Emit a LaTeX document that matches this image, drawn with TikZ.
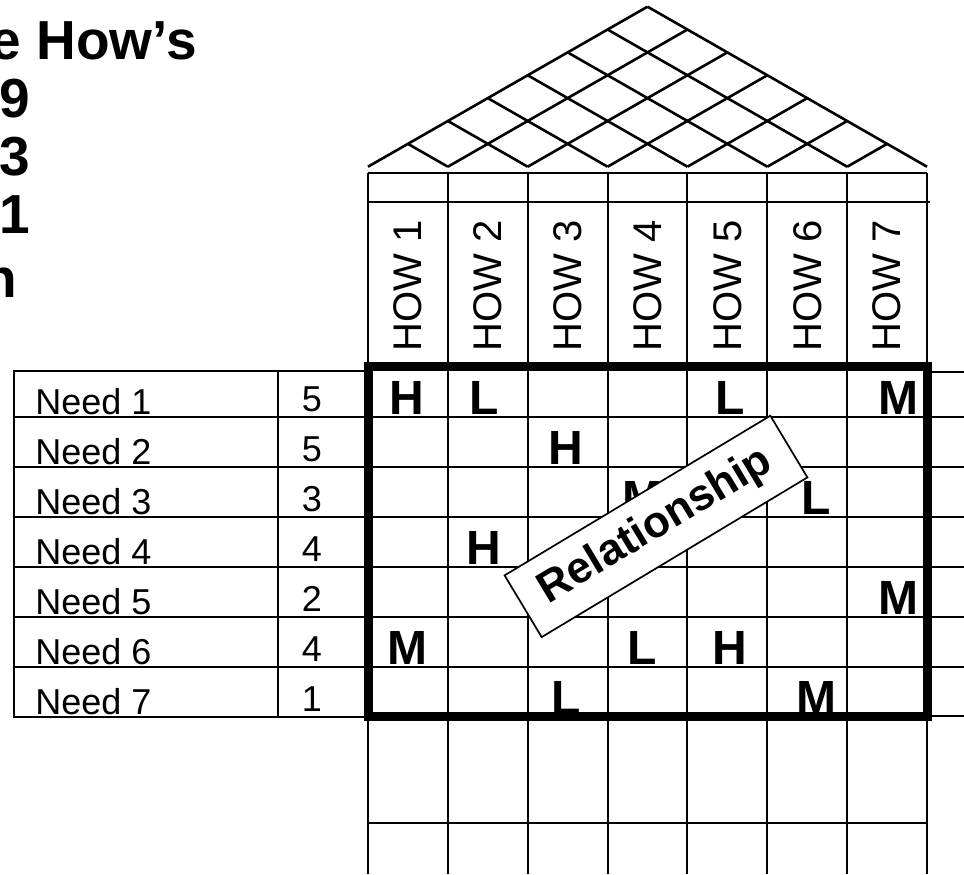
\documentclass[tikz,border=0pt]{standalone}
\usepackage{fontspec}
\setmainfont{Liberation Sans}

\begin{document}
\begin{tikzpicture}[
  x=0.5pt,y=-0.5pt,
  grid/.style={line width=1pt},
  roof/.style={line width=1.3pt},
  frame/.style={line width=4.5pt},
  title/.style={font=\fontsize{27.5}{30}\selectfont\bfseries,inner sep=0pt},
  need/.style={font=\fontsize{18}{20}\selectfont,inner sep=0pt,anchor=base west},
  weight/.style={font=\fontsize{18}{20}\selectfont,inner sep=0pt,anchor=base},
  how/.style={font=\fontsize{20}{22}\selectfont,inner sep=0pt,rotate=90},
  strength/.style={font=\fontsize{24}{26}\selectfont\bfseries,inner sep=0pt,anchor=base},
  tag/.style={draw,fill=white,line width=0.85pt,rotate=31,inner sep=0pt,
    minimum width=155pt,minimum height=36pt,font=\fontsize{22}{24}\selectfont\bfseries}
]
\useasboundingbox (0,0) rectangle (964,874);

\node[title,anchor=base east] (head) at (197,59) {e How’s};
\node[title,anchor=base west] (score9) at (-1,117) {9};
\node[title,anchor=base west] (score3) at (-1,175) {3};
\node[title,anchor=base west] (score1) at (-1,233) {1};
\node[title,anchor=base west] (tail) at (-17,297) {n};

% roof
\foreach \i in {0,...,7} {
  \draw[roof] ({368+79.86*\i},166.7) -- ++({39.93*(7-\i)},{-22.86*(7-\i)});
  \draw[roof] ({368+79.86*\i},166.7) -- ++({-39.93*\i},{-22.86*\i});
}

\foreach \x/\r/\l in {407/1/H,484/1/L,730/1/L,898/1/M,566/2/H,642/3/M,816/3/L,
    484/4/H,898/5/M,407/6/M,642/6/L,730/6/H,566/7/L,816/7/M}
  \node[strength] (cell-\r-\x) at (\x,{366.7+50*\r-2}) {\l};

\foreach \i in {0,...,7}
  \draw[grid] ({368+79.86*\i},173.3) -- ({368+79.86*\i},874);
\draw[grid] (368,173.3) -- (927,173.3);
\draw[grid] (368,202.3) -- (930,202.3);
\draw[grid] (368,822.7) -- (927,822.7);
\foreach \j in {1,...,6}
  \draw[grid] (14,{366.7+50*\j}) -- (964,{366.7+50*\j});
\draw[grid] (14,370.7) rectangle (368,716.7);
\draw[grid] (278,370.7) -- (278,716.7);
\draw[grid] (927,371.7) -- (964,371.7);
\draw[grid] (927,716) -- (964,716);

\foreach \i in {1,...,7}
  \node[how] (how\i) at ({368+79.86*(\i-0.5)},286) {HOW \i};
\foreach \j/\w in {1/5,2/5,3/3,4/4,5/2,6/4,7/1} {
  \node[need] (need\j) at (35,{366.7+50*\j-2}) {Need \j};
  \node[weight] (wt\j) at (312,{366.7+50*\j-5}) {\w};
}

\draw[frame] (368,366.7) rectangle (927,716.7);
\node[tag] (rel) at (656,526.4) {Relationship};
\end{tikzpicture}
\end{document}
